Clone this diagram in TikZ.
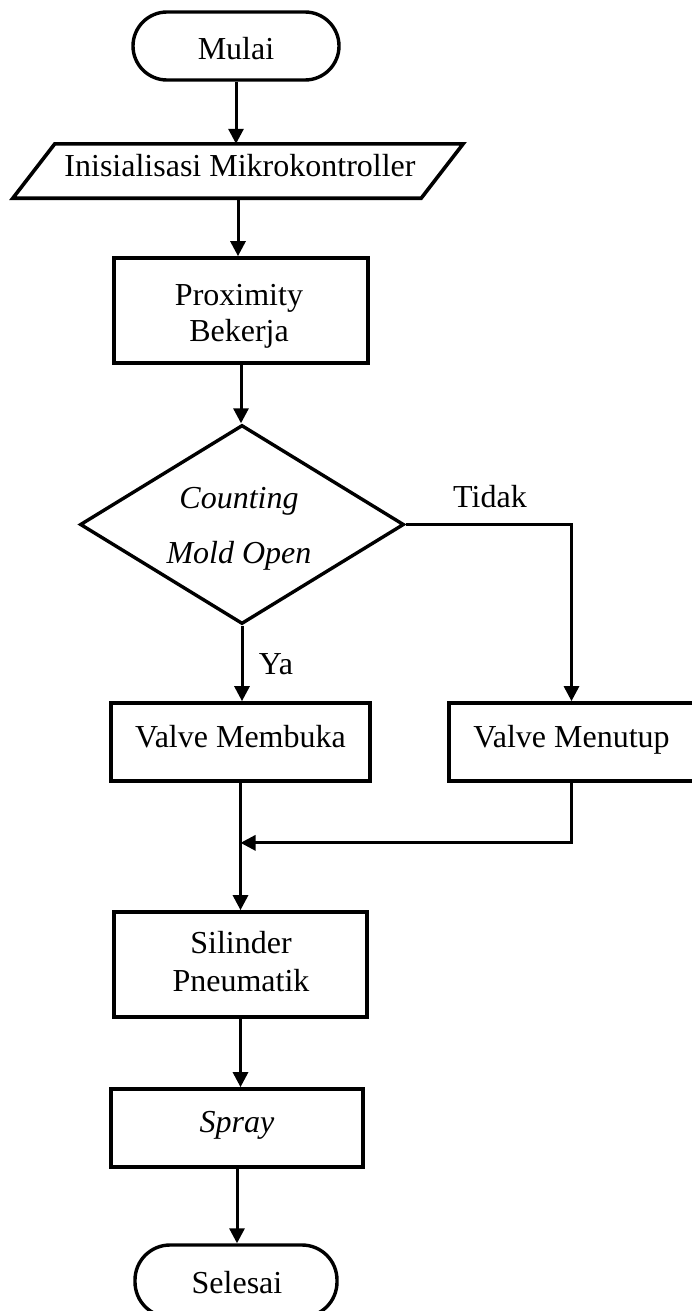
\documentclass[tikz,border=0pt]{standalone}
\usepackage{fontspec}
\setmainfont{Liberation Serif}
\usetikzlibrary{arrows.meta,shapes.geometric,calc}
\begin{document}
\begin{tikzpicture}[x=1pt,y=-1pt,
  shp/.style={draw, line width=3.7pt, inner sep=0pt, rectangle},
  termshape/.style={draw, line width=3.4pt, inner sep=0pt, rectangle, rounded corners=34pt, minimum width=206pt, minimum height=68pt},
  txt/.style={anchor=base, inner sep=0pt, font=\fontsize{32}{38}\selectfont},
  itxt/.style={txt, font=\fontsize{32}{38}\selectfont\itshape},
  arr/.style={line width=3pt, -{Triangle[length=15pt,width=15pt]}}]
\useasboundingbox (0,0) rectangle (692,1311);
\clip (0,0) rectangle (692,1311);

% Mulai
\node[termshape] (mulai) at (236,46) {};
\node[txt] (tmulai) at (236,60) {Mulai};

% Inisialisasi (parallelogram)
\node[inner sep=0pt, minimum width=408pt, minimum height=54pt] (init) at (238,171) {};
\draw[line width=3.6pt] ([xshift=21pt]init.north west) -- ([xshift=21pt]init.north east)
  -- ([xshift=-21pt]init.south east) -- ([xshift=-21pt]init.south west) -- cycle;
\node[txt] (tinit) at (240,176) {Inisialisasi Mikrokontroller};

% Proximity
\node[shp, minimum width=254pt, minimum height=105pt] (prox) at (241,310.5) {};
\node[txt] (tprox1) at (239,305) {Proximity};
\node[txt] (tprox2) at (239,341) {Bekerja};

% Decision
\node[draw, line width=3.4pt, inner sep=0pt, diamond, minimum width=324pt, minimum height=199pt] (dec) at (242,524.5) {};
\node[itxt] (tdec1) at (239,508) {Counting};
\node[itxt] (tdec2) at (239,563) {Mold Open};

% Valves
\node[shp, minimum width=259pt, minimum height=78pt] (mb) at (240.5,742) {};
\node[txt] (tmb) at (240.5,747) {Valve Membuka};
\node[shp, minimum width=245pt, minimum height=78pt] (mt) at (571.5,742) {};
\node[txt] (tmt) at (571.5,747) {Valve Menutup};

% Silinder
\node[shp, minimum width=253pt, minimum height=105pt] (sil) at (240.5,964.5) {};
\node[txt] (tsil1) at (241,953) {Silinder};
\node[txt] (tsil2) at (241,991) {Pneumatik};

% Spray
\node[shp, minimum width=252pt, minimum height=78pt] (spr) at (237,1128) {};
\node[itxt] (tspr) at (237,1132) {Spray};

% Selesai
\node[termshape, minimum width=202pt, minimum height=72pt, rounded corners=35pt] (sel) at (236,1281) {};
\node[txt] (tsel) at (237,1293) {Selesai};

% Labels
\node[txt] (ya) at (276,674) {Ya};
\node[txt] (tidak) at (490,507) {Tidak};

% Connectors
\draw[arr] (mulai.south) -- (mulai.south |- init.north);
\draw[arr] (init.south) -- (init.south |- prox.north);
\draw[arr] (prox.south) -- (prox.south |- dec.north);
\draw[arr] (dec.south) -- (dec.south |- mb.north);
\draw[arr] (dec.east) -| (mt.north);
\coordinate (j) at ($(mb.south)+(0,60)$);
\draw[arr] (mt.south) |- (j);
\draw[arr] (mb.south) -- (mb.south |- sil.north);
\draw[arr] (sil.south) -- (sil.south |- spr.north);
\draw[arr] (spr.south) -- (spr.south |- sel.north);
\end{tikzpicture}
\end{document}
